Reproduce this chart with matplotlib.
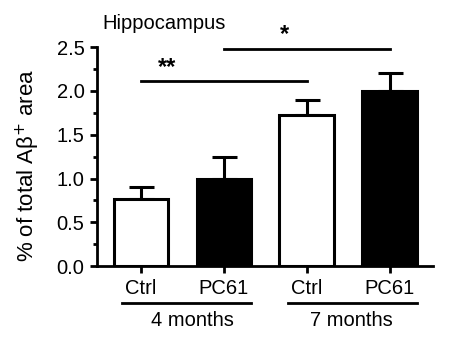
import matplotlib
matplotlib.use("Agg")
import matplotlib.pyplot as plt
from matplotlib.ticker import MultipleLocator

categories = ["Ctrl", "PC61", "Ctrl", "PC61"]
groups = ["4 months", "7 months"]
values = [0.77, 1.00, 1.72, 2.00]
errors = [0.13, 0.24, 0.18, 0.21]
colors = ["white", "black", "white", "black"]
sig_pairs = [(0, 2, 2.11, "**", 0.31), (1, 3, 2.48, "*", 1.73)]
title = "Hippocampus"
ylabel = "% of total A\u03b2$^{+}$ area"

plt.rcParams["font.family"] = ["Liberation Sans", "DejaVu Sans"]
fig = plt.figure(figsize=(4.5, 3.39), dpi=100)
ax = fig.add_axes([0.2156, 0.215, 0.7464, 0.646])

x = list(range(len(values)))
ax.bar(x, values, width=0.66, color=colors, edgecolor="black", linewidth=2.2, zorder=2)
ax.errorbar(x, values, yerr=[[0]*4, errors], fmt="none", ecolor="black",
            elinewidth=2.2, capsize=9, capthick=2.2, zorder=1)

ax.set_xlim(-0.53, 3.52)
ax.set_ylim(0, 2.5)
ax.yaxis.set_minor_locator(MultipleLocator(0.25))
ax.set_yticks([0, 0.5, 1.0, 1.5, 2.0, 2.5])
ax.set_yticklabels(["0.0", "0.5", "1.0", "1.5", "2.0", "2.5"])
ax.set_xticks(x)
ax.set_xticklabels(categories, fontsize=14.5)
for s in ["top", "right"]:
    ax.spines[s].set_visible(False)
for s in ["left", "bottom"]:
    ax.spines[s].set_linewidth(2.0)
ax.tick_params(axis="y", which="major", length=5, width=2, labelsize=14.5, pad=4)
ax.tick_params(axis="y", which="minor", length=3, width=2)
ax.tick_params(axis="x", length=5, width=2, pad=4.5)
ax.set_ylabel(ylabel, fontsize=16)
ax.yaxis.set_label_coords(-0.165, 0.46)

for a, b, y, lab, tx in sig_pairs:
    ax.plot([a, b], [y, y], color="black", lw=2, clip_on=False)
    ax.text(tx, y + 0.03, lab, ha="center", va="bottom", fontsize=17, fontweight="bold")

ax.text(-0.46, 2.71, title, ha="left", va="baseline", fontsize=14.5)

# group lines & labels
trans = ax.get_xaxis_transform()
label_x = [0.62, 2.54]
for i, g in enumerate(groups):
    x0, x1 = 2*i - 0.23, 2*i + 1.33
    ax.plot([x0, x1], [-0.169, -0.169], color="black", lw=2, transform=trans, clip_on=False)
    ax.text(label_x[i], -0.205, g, ha="center", va="top", fontsize=14.5, transform=trans)

fig.savefig("out.png", dpi=100)
